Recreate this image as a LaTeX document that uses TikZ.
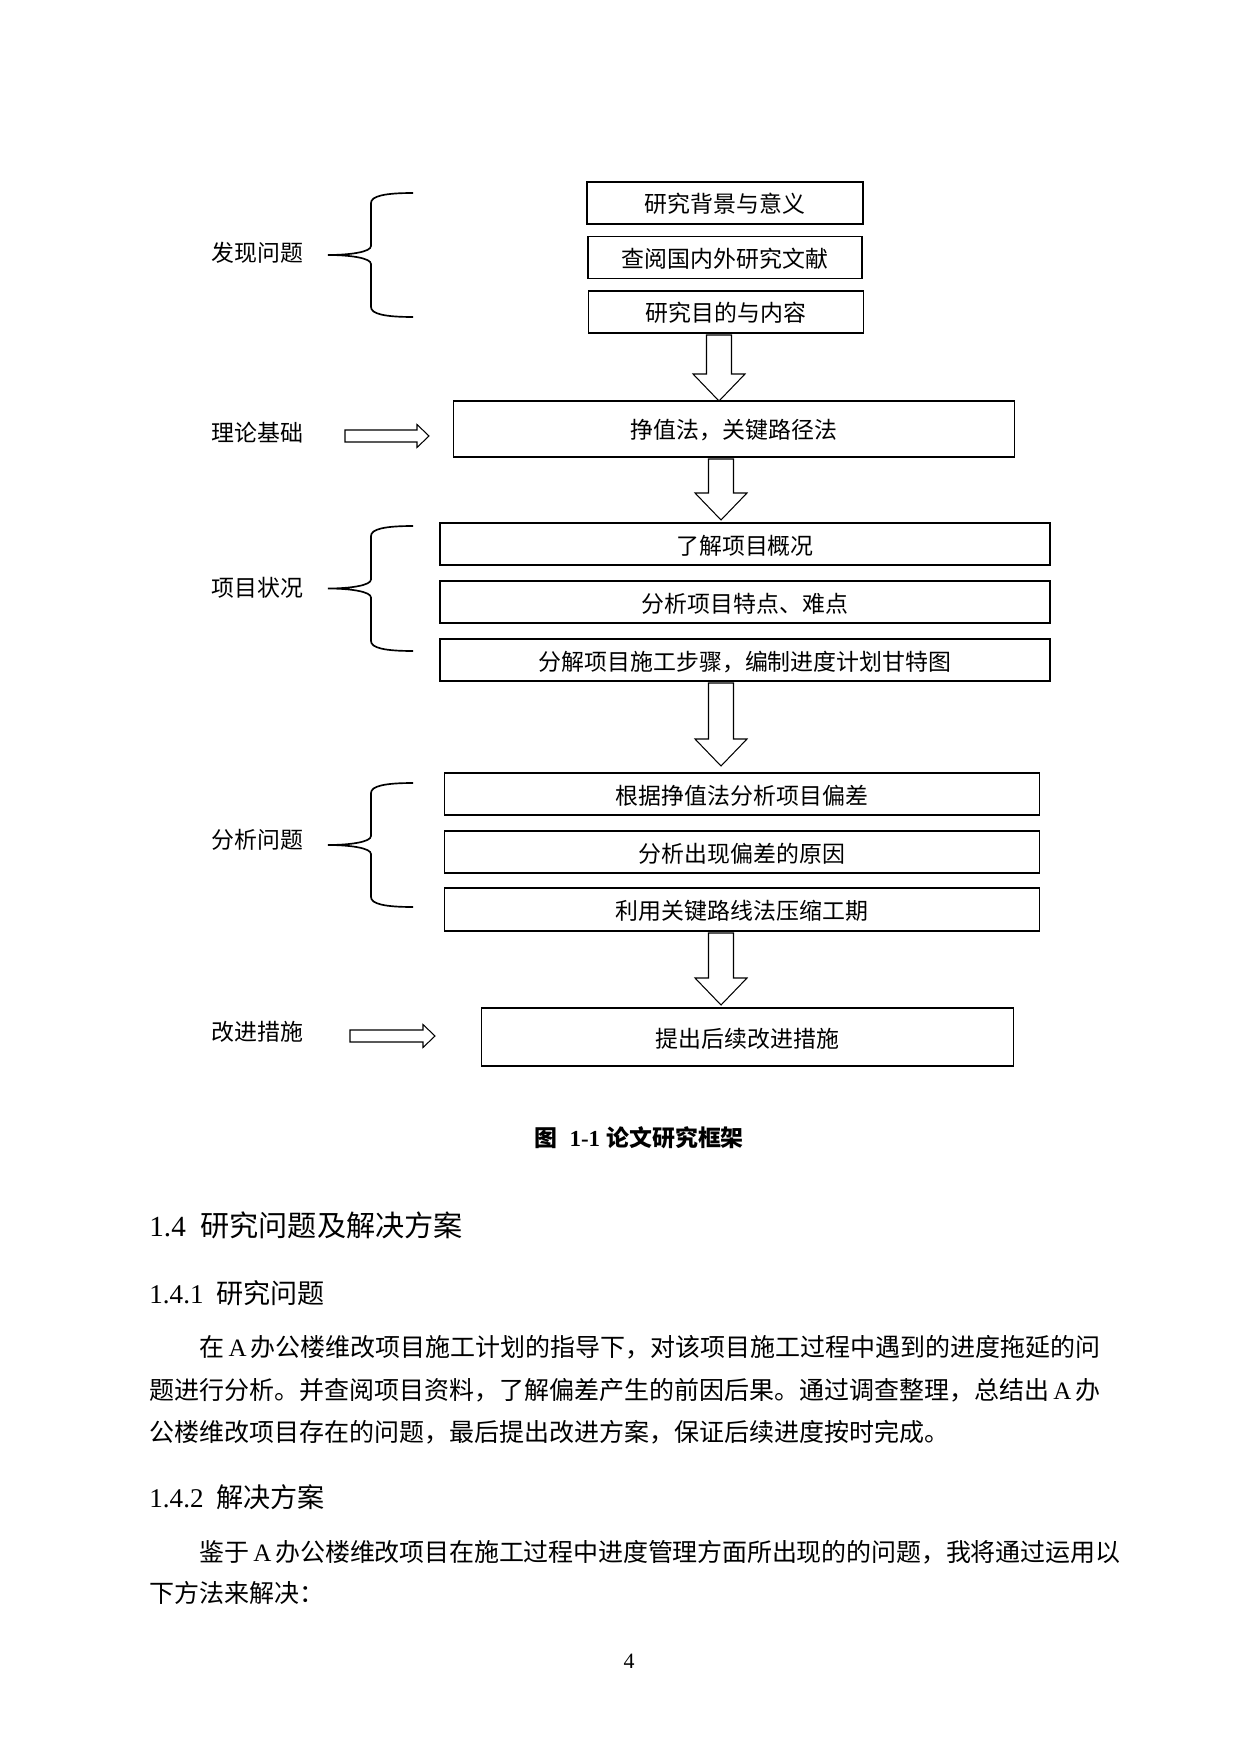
\documentclass[tikz,border=0pt]{standalone}
\usepackage{fontspec}
\setmainfont{Noto Sans CJK SC}
\newfontfamily\tnr{Liberation Serif}
\usetikzlibrary{calc, positioning}

\XeTeXlinebreaklocale "zh"
\XeTeXlinebreakskip=0pt plus 1pt minus 0.2pt
\XeTeXlinebreakpenalty=10000

\newcommand{\pxu}{0.4801pt}
\newcommand{\justline}{\rightskip=0pt \parfillskip=0pt \noindent}

\tikzset{
    box/.style={draw, line width=0.75pt, inner sep=0pt, outer sep=0pt, minimum height=42*\pxu, text height=0.96em, text depth=0em, font=\fontsize{11pt}{13pt}\selectfont},
    lbl/.style={anchor=west, inner sep=0pt, font=\fontsize{11pt}{13pt}\selectfont},
    blk/.style={draw, line width=0.5pt, fill=white, line join=miter},
    brcline/.style={line width=0.8pt},
    bodyline/.style={anchor=base west, inner sep=0pt, text width=466pt, font=\fontsize{12pt}{20pt}\selectfont},
    headline/.style={anchor=west, inner sep=0pt}
}

% block arrow down: source, target, x reference, gap at tip
\newcommand{\dnblk}[4]{%
    \path (#1.south -| #3) coordinate (s) ($(#2.north -| #3)+(0,-#4)$) coordinate (t);
    \draw[blk] ($(s)+(-12.5,2)$) -- ($(s)+(12.5,2)$) -- ($(t)+(12.5,-27)$) -- ($(t)+(26,-27)$) -- (t) -- ($(t)+(-26,-27)$) -- ($(t)+(-12.5,-27)$) -- cycle;}
% block arrow right: start, tip
\newcommand{\rtblk}[2]{%
    \draw[blk] ($(#1)+(0,-6)$) -- ($(#2)+(-12,-6)$) -- ($(#2)+(-12,-11.5)$) -- (#2) -- ($(#2)+(-12,11.5)$) -- ($(#2)+(-12,6)$) -- ($(#1)+(0,6)$) -- cycle;}
% left curly brace: top, tip, bottom
\newcommand{\brc}[3]{%
    \draw[brcline] (413,#1) .. controls (385,#1) and (371,#1+3) .. (371,#1+10) -- (371,#2-9) .. controls (371,#2-3) and (350,#2) .. (328,#2) .. controls (350,#2) and (371,#2+3) .. (371,#2+9) -- (371,#3-10) .. controls (371,#3-3) and (385,#3) .. (413,#3);}

\begin{document}
\begin{tikzpicture}[x=\pxu, y=-\pxu]
    \useasboundingbox (0,0) rectangle (1240,1754);

    \node[box, minimum width=276*\pxu] (b1) at (725,203) {研究背景与意义};
    \node[box, minimum width=274*\pxu] (b2) at (725,257.5) {查阅国内外研究文献};
    \node[box, minimum width=275*\pxu] (b3) at (726,312) {研究目的与内容};
    \node[box, minimum width=561*\pxu, minimum height=56*\pxu] (b4) at (734,429) {挣值法，关键路径法};
    \node[box, minimum width=610*\pxu] (b5) at (745,544) {了解项目概况};
    \node[box, minimum width=610*\pxu] (b6) at (745,602) {分析项目特点、难点};
    \node[box, minimum width=610*\pxu] (b7) at (745,660) {分解项目施工步骤，编制进度计划甘特图};
    \node[box, minimum width=595*\pxu] (b8) at (742,794) {根据挣值法分析项目偏差};
    \node[box, minimum width=595*\pxu] (b9) at (742,852) {分析出现偏差的原因};
    \node[box, minimum width=595*\pxu, minimum height=43*\pxu] (b10) at (742,909.5) {利用关键路线法压缩工期};
    \node[box, minimum width=532*\pxu, minimum height=58*\pxu] (b11) at (747.5,1037) {提出后续改进措施};

    \node[lbl] (l1) at (211,253) {发现问题};
    \node[lbl] (l2) at (211,433) {理论基础};
    \node[lbl] (l3) at (211,588) {项目状况};
    \node[lbl] (l4) at (211,840) {分析问题};
    \node[lbl] (l5) at (211,1032) {改进措施};

    \coordinate (ax1) at (719,0);
    \coordinate (ax2) at (721,0);
    \coordinate (r2s) at (345,436);
    \coordinate (r2t) at (429,436);
    \coordinate (r5s) at (350,1036);
    \coordinate (r5t) at (435,1036);

    \brc{193}{255}{317}
    \brc{526}{588.5}{651}
    \brc{783}{845}{907}

    \dnblk{b3}{b4}{ax1}{0}
    \dnblk{b4}{b5}{ax2}{3}
    \dnblk{b7}{b8}{ax2}{7}
    \dnblk{b10}{b11}{ax2}{3}
    \rtblk{r2s}{r2t}
    \rtblk{r5s}{r5t}

    \node[font=\fontsize{11pt}{13pt}\selectfont\bfseries, inner sep=0pt] (cap) at (639,1138) {图\hspace{6pt}{\tnr 1-1}\hspace{3pt}论文研究框架};

    \node[headline, font=\fontsize{14pt}{16pt}\selectfont] (h1) at (149,1225) {{\tnr 1.4}\hspace{7pt}研究问题及解决方案};
    \node[headline, font=\fontsize{13pt}{15pt}\selectfont] (h2) at (149,1293) {{\tnr 1.4.1}\hspace{6pt}研究问题};
    \node[bodyline] (p1a) at (149,1356) {\justline\hspace*{24pt}在\,{\tnr A}\,办公楼维改项目施工计划的指导下，对该项目施工过程中遇到的进度拖延的问};
    \node[bodyline] (p1b) at (149,1399) {\justline 题进行分析。并查阅项目资料，了解偏差产生的前因后果。通过调查整理，总结出\,{\tnr A}\,办};
    \node[bodyline] (p1c) at (149,1441) {\noindent 公楼维改项目存在的问题，最后提出改进方案，保证后续进度按时完成。};
    \node[headline, font=\fontsize{13pt}{15pt}\selectfont] (h3) at (149,1497) {{\tnr 1.4.2}\hspace{6pt}解决方案};
    \node[bodyline] (p2a) at (149,1561) {\justline\hspace*{24pt}鉴于\,{\tnr A}\,办公楼维改项目在施工过程中进度管理方面所出现的的问题，我将通过运用以};
    \node[bodyline] (p2b) at (149,1602) {\noindent 下方法来解决：};

    \node[font=\tnr\fontsize{10.5pt}{12pt}\selectfont, inner sep=0pt] (pg) at (629,1661) {4};
\end{tikzpicture}
\end{document}
